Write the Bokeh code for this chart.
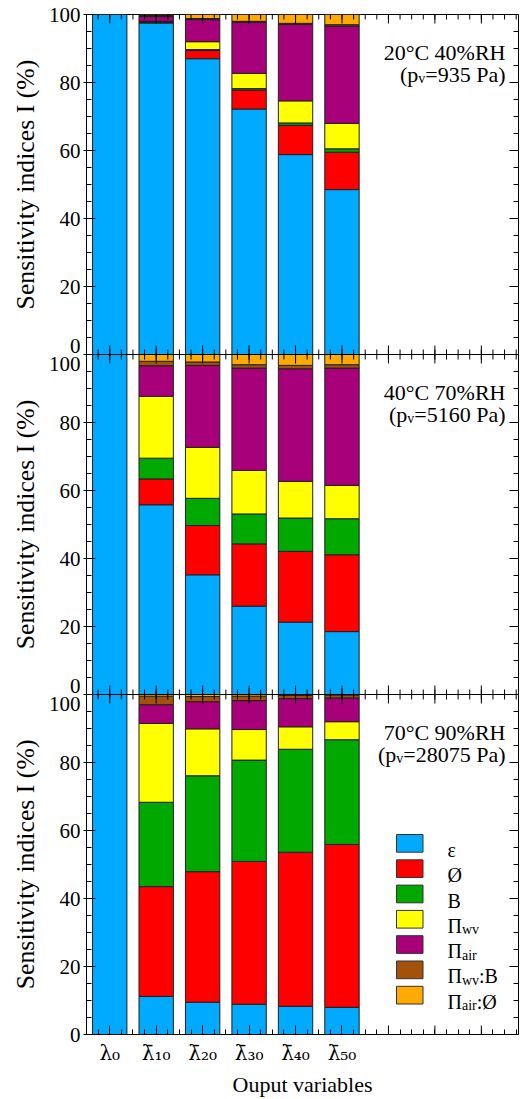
import numpy as np
from bokeh.plotting import figure
from bokeh.models import (ColumnDataSource, FixedTicker, Label,
                          BoxAnnotation, Span, Range1d)
from bokeh.embed import file_html
from bokeh.resources import INLINE

# ---------------------------------------------------------------- data
# output variables on the x axis
variables = ["λ\u2080", "λ\u0304\u2081\u2080", "λ\u0304\u2082\u2080",
             "λ\u0304\u2083\u2080", "λ\u0304\u2084\u2080", "λ\u0304\u2085\u2080"]

# factors (legend text split into base / subscript / tail)
factor_base = ["ε", "Ø", "B", "Π", "Π", "Π", "Π"]
factor_sub = ["", "", "", "wv", "air", "wv", "air"]
factor_tail = ["", "", "", "", "", ":B", ":Ø"]
factor_colors = ["#00AAFF", "#FF0000", "#00A800", "#FFFF00",
                 "#A8007A", "#A3520C", "#FFAA00"]

# 20°C 40%RH (pv = 935 Pa)
t20_eps = [100, 97.5, 87.0, 72.2, 58.8, 48.5]
t20_phi = [0, 0.2, 2.4, 5.6, 8.6, 11.0]
t20_b = [0, 0.2, 0.3, 0.4, 0.7, 1.0]
t20_pwv = [0, 0.1, 2.3, 4.5, 6.5, 7.5]
t20_pair = [0, 1.4, 6.5, 15.0, 22.5, 28.6]
t20_pwv_b = [0, 0.3, 0.3, 0.3, 0.3, 0.4]
t20_pair_phi = [0, 0.3, 1.2, 2.0, 2.6, 3.0]

# 40°C 70%RH (pv = 5160 Pa)
t40_eps = [100, 55.8, 35.2, 26.0, 21.3, 18.5]
t40_phi = [0, 7.6, 14.5, 18.3, 20.8, 22.6]
t40_b = [0, 6.1, 8.0, 8.8, 9.8, 10.6]
t40_pwv = [0, 18.2, 15.0, 12.8, 10.8, 9.8]
t40_pair = [0, 9.0, 24.1, 30.1, 33.1, 34.5]
t40_pwv_b = [0, 1.3, 1.0, 1.0, 1.0, 1.0]
t40_pair_phi = [0, 2.0, 2.2, 3.0, 3.2, 3.0]

# 70°C 90%RH (pv = 28075 Pa)
t70_eps = [100, 11.2, 9.5, 8.9, 8.3, 8.0]
t70_phi = [0, 32.3, 38.4, 42.0, 45.3, 47.9]
t70_b = [0, 24.8, 28.2, 29.8, 30.3, 30.8]
t70_pwv = [0, 23.2, 13.8, 9.0, 6.6, 5.3]
t70_pair = [0, 5.5, 8.0, 8.5, 8.3, 7.0]
t70_pwv_b = [0, 2.5, 1.5, 1.3, 0.9, 0.8]
t70_pair_phi = [0, 0.5, 0.6, 0.5, 0.3, 0.2]

conditions = ["20°C 40%RH", "40°C 70%RH", "70°C 90%RH"]
vapour_pressure = ["935", "5160", "28075"]
y_title = "Sensitivity indices I (%)"

panels = [
    [t20_eps, t20_phi, t20_b, t20_pwv, t20_pair, t20_pwv_b, t20_pair_phi],
    [t40_eps, t40_phi, t40_b, t40_pwv, t40_pair, t40_pwv_b, t40_pair_phi],
    [t70_eps, t70_phi, t70_b, t70_pwv, t70_pair, t70_pwv_b, t70_pair_phi],
]

# ---------------------------------------------------------------- layout
FONT = "Liberation Serif"
X0, X1 = 0.5, 9.8
PANEL_SPAN = 100
NP = len(panels)
Y1 = PANEL_SPAN * NP
FL, FT, FW, FH = 86, 14, 432, 1020          # frame box in pixels
W, H = 527, 1099
PANEL_PX = FH / NP


def dx(px):
    return X0 + (px - FL) * (X1 - X0) / FW


def dy(py):
    return Y1 - (py - FT) * Y1 / FH


def len_x(px):
    return px * (X1 - X0) / FW


def len_y(px):
    return px * Y1 / FH


# advance widths (em) of a Times-metric serif face
ADV = {"w": .722, "v": .5, "a": .444, "i": .278, "r": .333, ":": .278,
       "B": .667, "Ø": .722, "Π": .722, "=": .564, " ": .25, "\u00a0": .25,
       "P": .556, ")": .333, "(": .333, "p": .5, "ε": .44, "S": .556,
       "e": .444, "n": .5, "s": .389, "t": .278, "y": .5, "d": .5,
       "c": .444, "I": .333, "%": .833}


def width(s, size):
    return sum(ADV.get(c, .5) for c in s) * size


p = figure(width=W, height=H, x_range=Range1d(X0, X1), y_range=Range1d(0, Y1),
           output_backend="svg", toolbar_location=None,
           min_border_left=FL, min_border_top=FT,
           min_border_right=W - FL - FW, min_border_bottom=H - FT - FH)
p.xgrid.visible = False
p.ygrid.visible = False
p.outline_line_color = "black"
p.outline_line_width = 1
p.background_fill_color = "white"
p.border_fill_color = "white"


def txt(x, y, s, size, align="left", baseline="alphabetic"):
    p.add_layout(Label(x=x, y=y, text=s, text_font=FONT,
                       text_font_size=f"{size}px", text_align=align,
                       text_baseline=baseline, text_color="black"))


# ---------------------------------------------------------------- bars
xs = np.arange(1, len(variables) + 1)
for k, comps in enumerate(panels):
    base = Y1 - PANEL_SPAN * (k + 1)
    acc = np.zeros(len(xs))
    for comp, col in zip(comps, factor_colors):
        v = np.asarray(comp, dtype=float)
        top = acc + v
        m = v > 0
        src = ColumnDataSource(dict(x=xs[m], bottom=base + acc[m], top=base + top[m]))
        p.vbar(x="x", bottom="bottom", top="top", width=0.74, source=src,
               fill_color=col, line_color="#1f1f1f", line_width=1)
        acc = top

# ---------------------------------------------------------------- axes
x_major = list(range(1, 10))
x_minor = [float(v) for v in np.arange(X0, X1 + 1e-9, 0.25)]
y_major = list(range(0, Y1 + 1, 20))
y_minor = list(range(0, Y1 + 1, 5))
MAJ, MIN = 9, 5

y_overrides = {}
for t in y_major:
    if t == Y1:
        y_overrides[t] = "100"
    elif t % PANEL_SPAN == 0 and t != 0:
        y_overrides[t] = "0\n100"
    else:
        y_overrides[t] = str(t % PANEL_SPAN)

xb = p.xaxis[0]
xb.ticker = FixedTicker(ticks=list(xs), minor_ticks=x_minor)
xb.major_label_overrides = {int(i): lab for i, lab in zip(xs, variables)}
yl = p.yaxis[0]
yl.ticker = FixedTicker(ticks=y_major, minor_ticks=y_minor)
yl.major_label_overrides = y_overrides

for ax in (xb, yl):
    ax.axis_line_color = "black"
    ax.major_tick_line_color = "black"
    ax.minor_tick_line_color = "black"
    ax.major_tick_in = MAJ
    ax.major_tick_out = 0
    ax.minor_tick_in = MIN
    ax.minor_tick_out = 0
    ax.major_label_text_font = FONT
    ax.major_label_text_font_size = "21px"
    ax.major_label_text_color = "black"
    ax.axis_label_text_font = FONT
    ax.axis_label_text_font_style = "normal"
    ax.axis_label_text_color = "black"

# DejaVu Serif places the combining overbar on the lambda itself
xb.major_label_text_font = "DejaVu Serif"
xb.major_label_text_font_size = "20px"
xb.major_label_standoff = 6
xb.axis_label = "Ouput variables"
xb.axis_label_text_font_size = "22px"
xb.axis_label_standoff = 4

yl.major_tick_out = 3
yl.major_label_standoff = 3
yl.major_label_text_line_height = 0.75

# one title per panel, spaced with non-breaking spaces so that each copy
# sits on the middle of its own panel
n_gap = 14
title_size = round(PANEL_PX / (width(y_title, 1) + n_gap * width("\u00a0", 1)), 2)
yl.axis_label = ("\u00a0" * n_gap).join([y_title] * NP)
yl.axis_label_text_font_size = f"{title_size}px"
yl.axis_label_standoff = 6

# inward ticks on the top and right edges, at the extra x majors and on
# the separators between panels
sx0, sx1, sy0, sy1 = [], [], [], []


def add_tick(x0, y0, x1, y1):
    sx0.append(x0); sy0.append(y0); sx1.append(x1); sy1.append(y1)


for x in x_major:
    add_tick(x, Y1, x, Y1 - len_y(MAJ))
    if x > xs[-1]:
        add_tick(x, 0, x, len_y(MAJ))
for x in x_minor:
    add_tick(x, Y1, x, Y1 - len_y(MIN))
for y in y_major:
    add_tick(X1, y, X1 - len_x(MAJ), y)
for y in y_minor:
    add_tick(X1, y, X1 - len_x(MIN), y)
for k in range(1, NP):
    b = PANEL_SPAN * k
    p.add_layout(Span(location=b, dimension="width", line_color="black", line_width=1))
    for x in x_major:
        add_tick(x, b - len_y(MAJ), x, b + len_y(MAJ))
    for x in x_minor:
        add_tick(x, b - len_y(MIN), x, b + len_y(MIN))

p.segment(x0=sx0, y0=sy0, x1=sx1, y1=sy1, line_color="black", line_width=1)

# ---------------------------------------------------------------- texts
for k in range(NP):
    top_px = FT + k * PANEL_PX
    right_px = 505
    size, sub_size = 22, 14
    txt(dx(right_px), dy(top_px + 38), conditions[k], size, align="right")
    tail = f"={vapour_pressure[k]} Pa)"
    tail_left = right_px - width(tail, size)
    txt(dx(right_px), dy(top_px + 60), tail, size, align="right")
    txt(dx(tail_left), dy(top_px + 64), "v", sub_size, align="right")
    txt(dx(tail_left - width("v", sub_size)), dy(top_px + 60), "(p", size, align="right")

# legend (bottom panel)
sw_l, sw_r, sw_h, row0, row_step = 396, 422.5, 17.7, 834, 25.3
txt_size, sub_size = 20, 14
for i, col in enumerate(factor_colors):
    t_px = row0 + i * row_step
    p.add_layout(BoxAnnotation(left=dx(sw_l), right=dx(sw_r), top=dy(t_px),
                               bottom=dy(t_px + sw_h), fill_color=col, fill_alpha=1.0,
                               line_color="#333333", line_width=1, line_alpha=1.0))
    base_px = t_px + sw_h / 2 + 6.6
    x_px = 447
    txt(dx(x_px), dy(base_px), factor_base[i], txt_size)
    x_px += width(factor_base[i], txt_size)
    if factor_sub[i]:
        txt(dx(x_px), dy(base_px + 4), factor_sub[i], sub_size)
        x_px += width(factor_sub[i], sub_size)
    if factor_tail[i]:
        txt(dx(x_px), dy(base_px), factor_tail[i], txt_size)

open("out.html", "w").write(file_html(p, INLINE))
